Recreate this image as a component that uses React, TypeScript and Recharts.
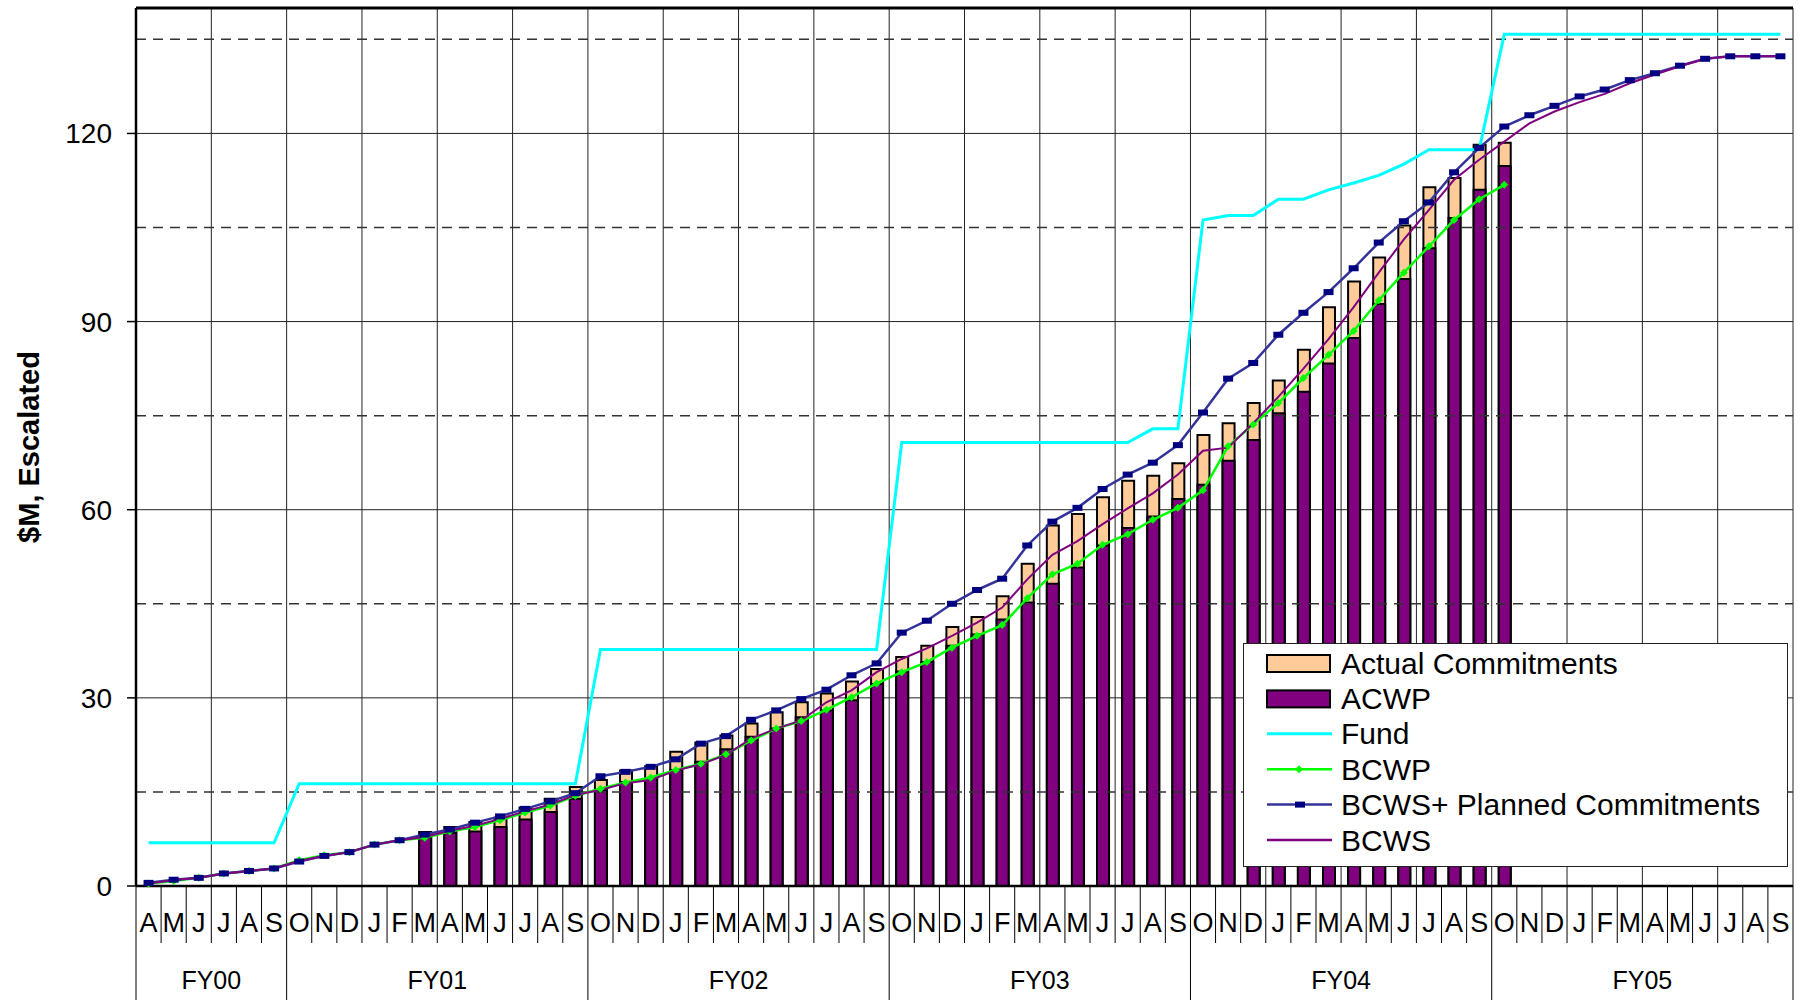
import React from 'react'
import {ComposedChart, Bar, Line, XAxis, YAxis, CartesianGrid, ReferenceLine, Legend} from 'recharts'

const FONT = '"Liberation Sans", Arial, sans-serif'

// fiscal years and their month letters (FY00 starts in April)
const fiscalYears = ['FY00', 'FY01', 'FY02', 'FY03', 'FY04', 'FY05']
const fyLengths = [6, 12, 12, 12, 12, 12]
const months = [
    'A', 'M', 'J', 'J', 'A', 'S',
    'O', 'N', 'D', 'J', 'F', 'M', 'A', 'M', 'J', 'J', 'A', 'S',
    'O', 'N', 'D', 'J', 'F', 'M', 'A', 'M', 'J', 'J', 'A', 'S',
    'O', 'N', 'D', 'J', 'F', 'M', 'A', 'M', 'J', 'J', 'A', 'S',
    'O', 'N', 'D', 'J', 'F', 'M', 'A', 'M', 'J', 'J', 'A', 'S',
    'O', 'N', 'D', 'J', 'F', 'M', 'A', 'M', 'J', 'J', 'A', 'S',
]

const yTicks = [0, 30, 60, 90, 120]
const dashedLevels = [15, 45, 75, 105, 135]
const quarterTicks = [0, 3, 6, 9, 12, 15, 18, 21, 24, 27, 30, 33, 36, 39, 42, 45, 48, 51, 54, 57, 60, 63, 66]

const fund = [
    6.9, 6.9, 6.9, 6.9, 6.9, 6.9,
    16.3, 16.3, 16.3, 16.3, 16.3, 16.3, 16.3, 16.3, 16.3, 16.3, 16.3, 16.3,
    37.7, 37.7, 37.7, 37.7, 37.7, 37.7, 37.7, 37.7, 37.7, 37.7, 37.7, 37.7,
    70.7, 70.7, 70.7, 70.7, 70.7, 70.7, 70.7, 70.7, 70.7, 70.7, 72.9, 72.9,
    106.2, 106.9, 106.9, 109.5, 109.5, 111.0, 112.1, 113.3, 115.1, 117.4, 117.4, 117.4,
    135.8, 135.8, 135.8, 135.8, 135.8, 135.8, 135.8, 135.8, 135.8, 135.8, 135.8, 135.8,
]

const actualCommitments = [
    null, null, null, null, null, null,
    null, null, null, null, null, 8.6, 9.4, 10.2, 10.9, 12.5, 13.9, 15.8,
    16.9, 18.4, 19.1, 21.4, 22.9, 24.0, 25.9, 27.7, 29.3, 30.7, 32.6, 34.6,
    36.5, 38.3, 41.3, 42.9, 46.2, 51.4, 57.5, 59.3, 62.0, 64.6, 65.4, 67.4,
    71.9, 73.8, 77.0, 80.6, 85.5, 92.3, 96.4, 100.2, 105.3, 111.4, 112.9, 118.2,
    118.5, null, null, null, null, null, null, null, null, null, null, null,
]

const acwp = [
    null, null, null, null, null, null,
    null, null, null, null, null, 8.0, 8.5, 8.7, 9.4, 10.6, 11.8, 13.9,
    15.3, 16.6, 17.2, 18.5, 19.8, 21.8, 23.8, 25.1, 26.9, 28.0, 29.6, 32.2,
    34.2, 35.7, 38.3, 40.1, 42.5, 45.2, 48.2, 50.8, 54.3, 57.1, 58.9, 61.7,
    64.0, 67.8, 71.1, 75.4, 78.8, 83.3, 87.4, 92.8, 96.8, 101.7, 106.5, 111.0,
    114.8, null, null, null, null, null, null, null, null, null, null, null,
]

const bcwp = [
    0.4, 0.8, 1.3, 2.0, 2.4, 2.8,
    4.1, 4.9, 5.4, 6.6, 7.3, 7.7, 8.7, 9.4, 10.5, 11.7, 12.8, 14.4,
    15.5, 16.5, 17.3, 18.5, 19.5, 21.0, 23.2, 25.1, 26.3, 28.1, 30.1, 32.3,
    34.1, 35.7, 38.0, 39.9, 41.6, 45.9, 49.7, 51.4, 54.4, 56.1, 58.4, 60.3,
    63.1, 70.1, 73.6, 77.0, 81.0, 84.7, 88.5, 93.4, 97.8, 102.0, 106.2, 109.5,
    111.8, null, null, null, null, null, null, null, null, null, null, null,
]

const bcwsPlanned = [
    0.5, 1.0, 1.3, 2.0, 2.4, 2.8,
    3.9, 4.8, 5.4, 6.6, 7.3, 8.2, 9.0, 10.1, 11.1, 12.3, 13.5, 14.8,
    17.5, 18.2, 19.0, 20.2, 22.7, 23.9, 26.5, 28.0, 29.8, 31.3, 33.6, 35.5,
    40.4, 42.3, 45.0, 47.2, 49.0, 54.3, 58.1, 60.3, 63.3, 65.6, 67.5, 70.3,
    75.5, 80.9, 83.4, 87.9, 91.4, 94.7, 98.5, 102.6, 106.0, 109.0, 113.8, 117.7,
    121.1, 122.9, 124.4, 125.9, 127.0, 128.5, 129.6, 130.8, 131.9, 132.3, 132.3, 132.3,
]

const bcws = [
    0.4, 0.9, 1.3, 2.0, 2.4, 2.8,
    4.0, 4.8, 5.4, 6.6, 7.3, 7.8, 8.8, 9.6, 10.7, 11.9, 13.0, 14.5,
    15.3, 16.4, 16.9, 18.4, 19.4, 20.9, 23.5, 25.1, 26.4, 29.3, 31.2, 34.1,
    36.2, 37.9, 39.9, 42.0, 44.4, 48.9, 52.8, 55.0, 57.7, 60.2, 62.6, 65.6,
    69.4, 69.9, 73.8, 78.0, 82.5, 87.2, 92.3, 97.8, 103.1, 107.8, 112.6, 115.8,
    118.7, 121.6, 123.5, 125.0, 126.3, 128.0, 129.4, 130.7, 131.9, 132.3, 132.3, 132.3,
]

const rows = months.map((m, i) => ({
    key: `m${i}`,
    month: m,
    idx: i + 0.5,
    fund: fund[i],
    commit: actualCommitments[i],
    acwp: acwp[i],
    bcwp: bcwp[i],
    bcwsPlanned: bcwsPlanned[i],
    bcws: bcws[i],
}))

// index of first month of each fiscal year
const fyStarts: number[] = []
fyLengths.reduce((acc, n) => { fyStarts.push(acc); return acc + n }, 0)

const CHART_W = 1798
const CHART_H = 1000
const MARGIN = {top: 8, right: 5, bottom: 0, left: 0}
const Y_AXIS_W = 136
const X_AXIS_H = 114
const BAND = (CHART_W - MARGIN.left - MARGIN.right - Y_AXIS_W) / months.length

function MonthTick(props: any) {
    const {x, y, index, payload} = props
    const half = payload && payload.offset ? payload.offset : BAND / 2
    const left = x - half
    const fyIdx = fyStarts.indexOf(index)
    const els: any[] = []
    els.push(
        <line key="sep" x1={left} x2={left} y1={y} y2={fyIdx >= 0 ? y + X_AXIS_H : y + 57} stroke="#000" strokeWidth={1}/>
    )
    if (index === months.length - 1) {
        els.push(<line key="end" x1={x + half} x2={x + half} y1={y} y2={y + X_AXIS_H} stroke="#000" strokeWidth={1}/>)
    }
    els.push(
        <text key="m" x={x} y={y + 37} textAnchor="middle" dominantBaseline="central"
              fontFamily={FONT} fontSize={27} fill="#000">{months[index]}</text>
    )
    fyStarts.forEach((s, k) => {
        if (index === s + fyLengths[k] / 2) {
            els.push(
                <text key="fy" x={left} y={y + 94} textAnchor="middle" dominantBaseline="central"
                      fontFamily={FONT} fontSize={25} fill="#000">{fiscalYears[k]}</text>
            )
        }
    })
    return <g>{els}</g>
}

function SquareDot(props: any) {
    const {cx, cy, index} = props
    if (cx == null || cy == null) return <g key={index}/>
    return <rect key={index} x={cx - 5} y={cy - 3} width={10} height={6} fill="#000080"/>
}

function DiamondDot(props: any) {
    const {cx, cy, index} = props
    if (cx == null || cy == null) return <g key={index}/>
    return <path key={index} d={`M${cx},${cy - 4}L${cx + 4},${cy}L${cx},${cy + 4}L${cx - 4},${cy}Z`} fill="#00FF00"/>
}

const legendItems = [
    {name: 'Actual Commitments', kind: 'bar', color: '#FFCC99'},
    {name: 'ACWP', kind: 'bar', color: '#800080'},
    {name: 'Fund', kind: 'line', color: '#00FFFF'},
    {name: 'BCWP', kind: 'diamond', color: '#00FF00'},
    {name: 'BCWS+ Planned Commitments', kind: 'square', color: '#333399'},
    {name: 'BCWS', kind: 'line', color: '#800080'},
]

function LegendBox() {
    return (
        <div style={{width: 545, height: 224, background: '#fff', border: '1.5px solid #222', boxSizing: 'border-box'}}>
            <svg width={545} height={222}>
                {legendItems.map((it, i) => {
                    const cy = 19 + i * 35.4
                    return (
                        <g key={it.name}>
                            {it.kind === 'bar' && (
                                <rect x={23} y={cy - 8} width={63} height={17} fill={it.color} stroke="#000" strokeWidth={2}/>
                            )}
                            {it.kind !== 'bar' && (
                                <line x1={23} x2={88} y1={cy} y2={cy} stroke={it.color} strokeWidth={it.kind === 'line' && it.name === 'Fund' ? 3 : 2.5}/>
                            )}
                            {it.kind === 'diamond' && (
                                <path d={`M55,${cy - 4}L59,${cy}L55,${cy + 4}L51,${cy}Z`} fill="#00FF00"/>
                            )}
                            {it.kind === 'square' && (
                                <rect x={51} y={cy - 3} width={10} height={6} fill="#000080"/>
                            )}
                            <text x={97} y={cy} dominantBaseline="central" fontFamily={FONT} fontSize={30} fill="#000">{it.name}</text>
                        </g>
                    )
                })}
            </svg>
        </div>
    )
}

function YLabel(props: any) {
    const vb = props.viewBox || {x: 0, y: MARGIN.top, height: CHART_H - MARGIN.top - X_AXIS_H}
    const cx = vb.x + 29
    const cy = vb.y + vb.height / 2
    return (
        <text x={cx} y={cy} transform={`rotate(-90, ${cx}, ${cy})`} textAnchor="middle" dominantBaseline="central"
              fontFamily={FONT} fontSize={29} fontWeight="bold" fill="#000">$M, Escalated</text>
    )
}

export default function App() {
    return (
        <div style={{position: 'absolute', left: 0, top: 0, width: CHART_W, height: CHART_H, background: '#fff'}}>
            <ComposedChart width={CHART_W} height={CHART_H} data={rows} margin={MARGIN}>
                <CartesianGrid xAxisId="quarter" stroke="#222" strokeWidth={1}/>
                {dashedLevels.map(v => (
                    <ReferenceLine key={v} y={v} stroke="#333" strokeWidth={1.5} strokeDasharray="10 7"/>
                ))}
                <ReferenceLine y={140} stroke="#000" strokeWidth={3}/>
                <XAxis dataKey="key" interval={0} height={X_AXIS_H} tick={<MonthTick/>} tickLine={false}
                       tickSize={0} tickMargin={0} axisLine={{stroke: '#000', strokeWidth: 2.5}}/>
                <XAxis xAxisId="acwp" dataKey="key" hide/>
                <XAxis xAxisId="quarter" type="number" dataKey="idx" domain={[0, 66]} ticks={quarterTicks}
                       allowDataOverflow hide/>
                <YAxis domain={[0, 140]} ticks={yTicks} width={Y_AXIS_W} tickSize={9} tickMargin={15}
                       axisLine={{stroke: '#000', strokeWidth: 2.5}} tickLine={{stroke: '#000', strokeWidth: 1.5}}
                       tick={{fill: '#000', fontSize: 28, fontFamily: FONT}} label={<YLabel/>}/>
                <Bar dataKey="commit" name="Actual Commitments" fill="#FFCC99" stroke="#000" strokeWidth={2}
                     barSize={12} isAnimationActive={false}/>
                <Bar dataKey="acwp" xAxisId="acwp" name="ACWP" fill="#800080" stroke="#000" strokeWidth={2}
                     barSize={12} isAnimationActive={false}/>
                <Line dataKey="fund" name="Fund" stroke="#00FFFF" strokeWidth={3} dot={false} activeDot={false}
                      isAnimationActive={false}/>
                <Line dataKey="bcwp" name="BCWP" stroke="#00FF00" strokeWidth={2.5} dot={<DiamondDot/>}
                      activeDot={false} isAnimationActive={false}/>
                <Line dataKey="bcwsPlanned" name="BCWS+ Planned Commitments" stroke="#333399" strokeWidth={2.5}
                      dot={<SquareDot/>} activeDot={false} isAnimationActive={false}/>
                <Line dataKey="bcws" name="BCWS" stroke="#800080" strokeWidth={2} dot={false} activeDot={false}
                      isAnimationActive={false}/>
                <Legend layout="horizontal" verticalAlign="middle" align="center" content={<LegendBox/>}
                        wrapperStyle={{left: 1243, top: 643, width: 545, height: 224}}/>
            </ComposedChart>
        </div>
    )
}
